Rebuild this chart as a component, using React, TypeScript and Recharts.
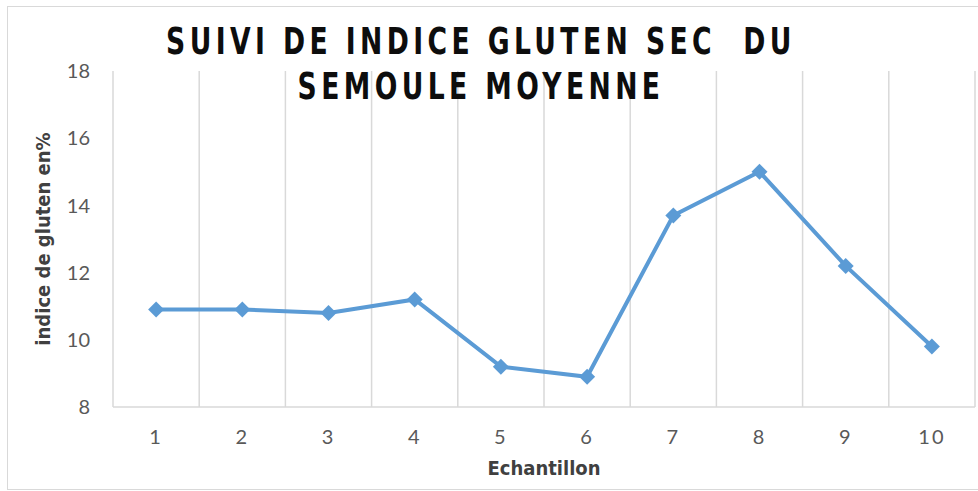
import React from "react";
import {
  LineChart,
  Line,
  XAxis,
  YAxis,
  CartesianGrid,
} from "recharts";

// sample numbers and measured dry gluten index (%)
const echantillons = [1, 2, 3, 4, 5, 6, 7, 8, 9, 10];
const indiceGluten = [10.9, 10.9, 10.8, 11.2, 9.2, 8.9, 13.7, 15.0, 12.2, 9.8];
const yTicks = [8, 10, 12, 14, 16, 18];

const data = echantillons.map((e, i) => ({ echantillon: e, indice: indiceGluten[i] }));

const BLUE = "#5B9BD5";
const GRID = "#d9d9d9";
const TICK = "#595959";
const narrowBold = "'Liberation Sans Narrow', 'DejaVu Sans Condensed', sans-serif";

// diamond marker like the office chart
const Diamond = (props: any) => {
  const { cx, cy } = props;
  if (cx == null || cy == null) return null;
  const r = 8;
  return (
    <polygon
      points={`${cx},${cy - r} ${cx + r},${cy} ${cx},${cy + r} ${cx - r},${cy}`}
      fill={BLUE}
      stroke="none"
    />
  );
};

// grid lines sit on the band borders, not on the tick centres
const bandBorders = ({ offset }: any) => {
  const left = offset?.left ?? 113;
  const width = offset?.width ?? 862;
  return Array.from({ length: 11 }, (_, i) => left + (i * width) / 10);
};

const titleLine: React.CSSProperties = {
  display: "block",
  whiteSpace: "pre",
  transform: "scaleX(0.8)",
  transformOrigin: "center",
};

const App = () => {
  return (
    <div style={{ position: "absolute", left: 0, top: 0, width: 978, height: 491, background: "#fff" }}>
      <div
        style={{
          position: "absolute",
          left: 7,
          top: 6,
          width: 978,
          height: 484,
          border: `1.5px solid ${GRID}`,
          boxSizing: "border-box",
        }}
      />
      <LineChart
        width={978}
        height={491}
        data={data}
        margin={{ top: 71, right: 3, bottom: 54, left: 0 }}
      >
        <CartesianGrid
          horizontal={false}
          stroke={GRID}
          strokeWidth={1.5}
          verticalCoordinatesGenerator={bandBorders}
        />
        <XAxis
          dataKey="echantillon"
          type="number"
          domain={[0.5, 10.5]}
          ticks={echantillons}
          stroke={GRID}
          strokeWidth={1.5}
          tickLine={false}
          tickSize={0}
          tickMargin={23}
          height={30}
          tick={{ fill: TICK, fontSize: 20, fontFamily: "Lato, 'Open Sans', sans-serif", letterSpacing: 2 }}
          label={{
            value: "Echantillon",
            position: "bottom",
            offset: 24,
            style: { fill: "#404040", fontSize: 20, fontWeight: 700, fontFamily: narrowBold },
          }}
        />
        <YAxis
          domain={[8, 18]}
          ticks={yTicks}
          width={113}
          axisLine={false}
          tickLine={false}
          tickSize={0}
          tickMargin={23}
          tick={{ fill: TICK, fontSize: 20, fontFamily: "Lato, 'Open Sans', sans-serif" }}
          label={{
            value: "indice de gluten en%",
            angle: -90,
            position: "insideLeft",
            offset: 43,
            style: { textAnchor: "middle", fill: "#404040", fontSize: 20, fontWeight: 700, fontFamily: narrowBold },
          }}
        />
        <Line
          type="linear"
          dataKey="indice"
          stroke={BLUE}
          strokeWidth={4}
          dot={<Diamond />}
          activeDot={false}
          isAnimationActive={false}
        />
      </LineChart>
      <div
        style={{
          position: "absolute",
          left: 0,
          top: 19,
          width: 962,
          textAlign: "center",
          fontFamily: narrowBold,
          fontWeight: 700,
          fontSize: 37,
          lineHeight: "45px",
          letterSpacing: 5.5,
          color: "#0d0d0d",
        }}
      >
        <span style={titleLine}>{"SUIVI DE INDICE GLUTEN SEC  DU"}</span>
        <span style={titleLine}>{"SEMOULE MOYENNE"}</span>
      </div>
    </div>
  );
};

export default App;
